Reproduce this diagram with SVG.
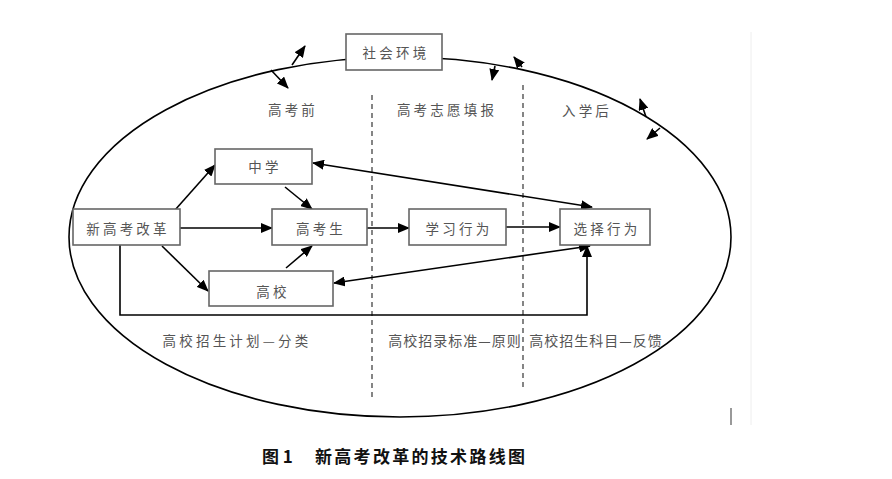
<svg xmlns="http://www.w3.org/2000/svg" width="892" height="479" viewBox="0 0 892 479">
<style>
.box{fill:#fff;stroke:#666;stroke-width:1.6}
.t{font-family:"Noto Sans CJK SC","Liberation Sans",sans-serif;font-size:13.5px;fill:#555;letter-spacing:3.2px;text-anchor:middle;dominant-baseline:central}
.tn{font-family:"Noto Sans CJK SC","Liberation Sans",sans-serif;font-size:14px;fill:#555;letter-spacing:1px;text-anchor:middle;dominant-baseline:central}
.c{fill:none;stroke:#000;stroke-width:1.6}
.d{fill:none;stroke:#444;stroke-width:1.3;stroke-dasharray:5,4}
.cap{font-family:"Noto Sans CJK SC","Liberation Sans",sans-serif;font-size:17px;font-weight:bold;fill:#111;dominant-baseline:central}
</style>
<defs>
<marker id="ah" markerUnits="userSpaceOnUse" markerWidth="12" markerHeight="10" refX="11" refY="5" orient="auto-start-reverse">
<path d="M0,0 L12,5 L0,10 z" fill="#000"/>
</marker>
</defs>
<rect width="892" height="479" fill="#fff"/>
<line x1="751" y1="32" x2="751" y2="425" stroke="#eee" stroke-width="1"/>
<line x1="731" y1="408" x2="731" y2="425" stroke="#777" stroke-width="1.5"/>
<g id="environment-ellipse">
<ellipse cx="400" cy="237" rx="331" ry="180" fill="none" stroke="#000" stroke-width="1.6"/>
</g>
<g id="dividers">
<line class="d" x1="372" y1="95" x2="372" y2="397"/>
<line class="d" x1="523" y1="85" x2="523" y2="388"/>
</g>
<g id="labels">
<text class="t" x="293" y="109">高考前</text>
<text class="t" x="447" y="109">高考志愿填报</text>
<text class="t" x="587" y="110">入学后</text>
<text class="t" x="237" y="340">高校招生计划—分类</text>
<text class="tn" x="455" y="340">高校招录标准—原则</text>
<text class="tn" x="596" y="340">高校招生科目—反馈</text>
</g>
<g id="connectors">
<line class="c" x1="292" y1="65" x2="305" y2="46" marker-end="url(#ah)"/>
<line class="c" x1="271" y1="70" x2="288" y2="88" marker-end="url(#ah)"/>
<line class="c" x1="495" y1="66" x2="492" y2="80" marker-end="url(#ah)"/>
<line class="c" x1="522" y1="67" x2="514" y2="57" marker-end="url(#ah)"/>
<line class="c" x1="646" y1="117" x2="640" y2="99" marker-end="url(#ah)"/>
<line class="c" x1="660" y1="128" x2="647" y2="139" marker-end="url(#ah)"/>
<line class="c" x1="175" y1="210" x2="215" y2="165" marker-end="url(#ah)"/>
<line class="c" x1="180" y1="228" x2="272" y2="228" marker-end="url(#ah)"/>
<line class="c" x1="162" y1="246" x2="208" y2="291" marker-end="url(#ah)"/>
<line class="c" x1="285" y1="187" x2="312" y2="209" marker-end="url(#ah)"/>
<line class="c" x1="286" y1="268" x2="312" y2="246" marker-end="url(#ah)"/>
<line class="c" x1="367" y1="228" x2="409" y2="228" marker-end="url(#ah)"/>
<line class="c" x1="506" y1="227" x2="560" y2="227" marker-end="url(#ah)"/>
<line class="c" x1="313" y1="163" x2="592" y2="207" marker-start="url(#ah)" marker-end="url(#ah)"/>
<line class="c" x1="334" y1="283" x2="590" y2="246" marker-start="url(#ah)" marker-end="url(#ah)"/>
<polyline class="c" points="120,245 120,315 587,315 587,246" marker-end="url(#ah)"/>
</g>
<g id="node-society">
<rect class="box" x="346" y="34" width="96" height="36"/>
<text class="t" x="396" y="52">社会环境</text>
</g>
<g id="node-reform">
<rect class="box" x="73" y="209" width="107" height="36"/>
<text class="t" x="128" y="228">新高考改革</text>
</g>
<g id="node-middle-school">
<rect class="box" x="215" y="149" width="97" height="35"/>
<text class="t" x="265" y="166">中学</text>
</g>
<g id="node-candidate">
<rect class="box" x="272" y="209" width="95" height="36"/>
<text class="t" x="321" y="228">高考生</text>
</g>
<g id="node-university">
<rect class="box" x="209" y="271" width="124" height="35"/>
<text class="t" x="273" y="291">高校</text>
</g>
<g id="node-learning">
<rect class="box" x="409" y="209" width="97" height="36"/>
<text class="t" x="459" y="228">学习行为</text>
</g>
<g id="node-choice">
<rect class="box" x="560" y="209" width="90" height="36"/>
<text class="t" x="607" y="228">选择行为</text>
</g>
<g id="caption">
<text class="cap" x="262" y="455">图 1</text>
<text class="cap" x="315" y="455" style="letter-spacing:2.3px">新高考改革的技术路线图</text>
</g>
</svg>
